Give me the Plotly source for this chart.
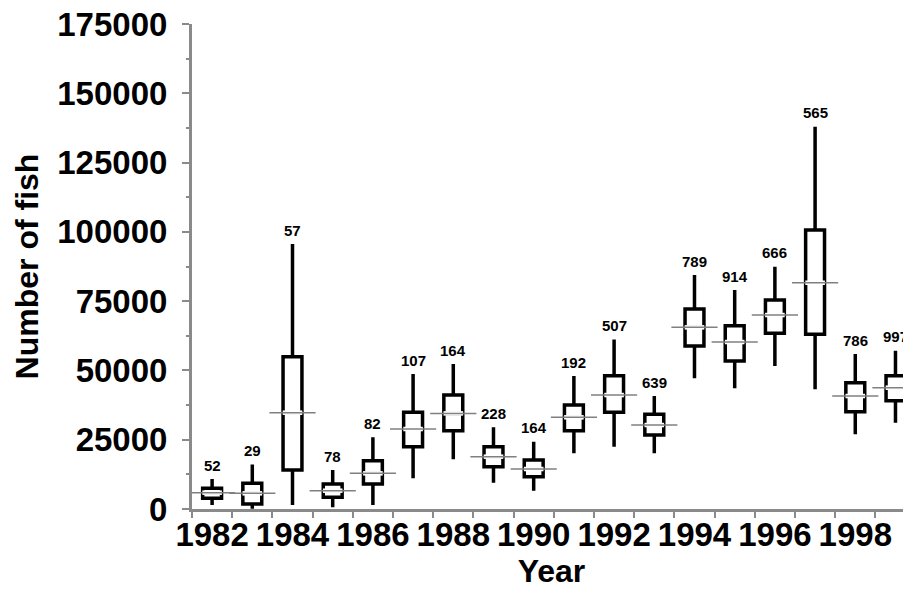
"""
Box plot of fish numbers per year (1982-1999), sample size above each box.
"""

import plotly.graph_objects as go

years = list(range(1982, 2000))
n_samples = [52, 29, 57, 78, 82, 107, 164, 228, 164, 192, 507, 639, 789, 914, 666, 565, 786, 997]

whisker_low = [1450, 100, 1440, 600, 1440, 11060, 17920, 9500, 6600, 20090, 22480, 20090,
               47140, 43540, 51590, 43180, 26940, 31130]
q1 = [3850, 1800, 14070, 4200, 9020, 22480, 28250, 15270, 11660, 28250, 34880, 26700,
      58800, 53390, 63380, 63020, 35100, 39070]
median = [5900, 5650, 34750, 6600, 12870, 28860, 34500, 18880, 14430, 33080, 41120, 30300,
          65540, 60250, 69990, 81640, 40760, 43760]
q3 = [7450, 9250, 54950, 9000, 17430, 34880, 41100, 22480, 17680, 37520, 48090, 34160,
      72150, 66130, 75400, 100650, 45560, 48090]
whisker_high = [10800, 16100, 95600, 14070, 25850, 48700, 52300, 29460, 24290, 47980, 61200, 40760,
                84400, 79000, 87410, 137900, 55920, 57110]

y_ticks = list(range(0, 175001, 25000))
x_ticks = list(range(1982, 1999, 2))

FONT = "Liberation Sans, Arial, sans-serif"
AXIS_GREY = "#8a8a8a"

fig = go.Figure()

fig.add_trace(go.Box(
    x=years,
    lowerfence=whisker_low,
    q1=q1,
    median=median,
    q3=q3,
    upperfence=whisker_high,
    fillcolor="white",
    line=dict(color="black", width=3.5),
    width=0.47,
    whiskerwidth=0,
    boxpoints=False,
    hoverinfo="skip",
    showlegend=False,
))

# hide the box's own black median, then draw the thin grey one
fig.add_trace(go.Scatter(
    x=years, y=median, mode="markers",
    marker=dict(symbol="line-ew", size=14, line=dict(color="white", width=4.5)),
    hoverinfo="skip", showlegend=False,
))
fig.add_trace(go.Scatter(
    x=years, y=median, mode="markers",
    marker=dict(symbol="line-ew", size=33, line=dict(color="#808080", width=1.5)),
    hovertemplate="%{x}: median %{y}<extra></extra>", showlegend=False,
))

for yr, top, n in zip(years, whisker_high, n_samples):
    fig.add_annotation(
        x=yr, y=top, text=str(n), showarrow=False,
        yanchor="middle", yshift=14,
        font=dict(family=FONT, size=15, color="black", weight="bold"),
    )

# page body adds an 8px margin, so the figure is a bit smaller than the window
fig.update_layout(
    width=903, height=589,
    margin=dict(l=184, r=0, t=16, b=88),
    plot_bgcolor="white", paper_bgcolor="white",
    font=dict(family=FONT, color="black"),
)
fig.update_xaxes(
    range=[1981.5, 1999.386],
    tickvals=x_ticks,
    ticks="",
    ticklabelstandoff=-6,
    minor=dict(tick0=1981.5, dtick=1, ticks="outside", ticklen=6, tickwidth=1.5, tickcolor=AXIS_GREY),
    tickfont=dict(size=33, weight="bold"),
    title=dict(text="Year", font=dict(size=32, weight="bold"), standoff=2),
    showline=True, linecolor=AXIS_GREY, linewidth=3,
    showgrid=False, zeroline=False, automargin=False,
)
fig.update_yaxes(
    range=[0, 175000],
    tickvals=y_ticks, tickformat="d",
    ticks="outside", ticklen=7, tickwidth=1.5, tickcolor=AXIS_GREY,
    minor=dict(dtick=12500, ticks="outside", ticklen=3, tickwidth=1.5, tickcolor=AXIS_GREY),
    tickfont=dict(size=33, weight="bold"),
    ticklabelstandoff=8,
    ticklabeloverflow="allow",
    title=dict(text="Number of fish", font=dict(size=32, weight="bold"), standoff=10),
    showline=True, linecolor=AXIS_GREY, linewidth=3,
    showgrid=False, zeroline=False, automargin=False,
)

fig.write_html("out.html")
